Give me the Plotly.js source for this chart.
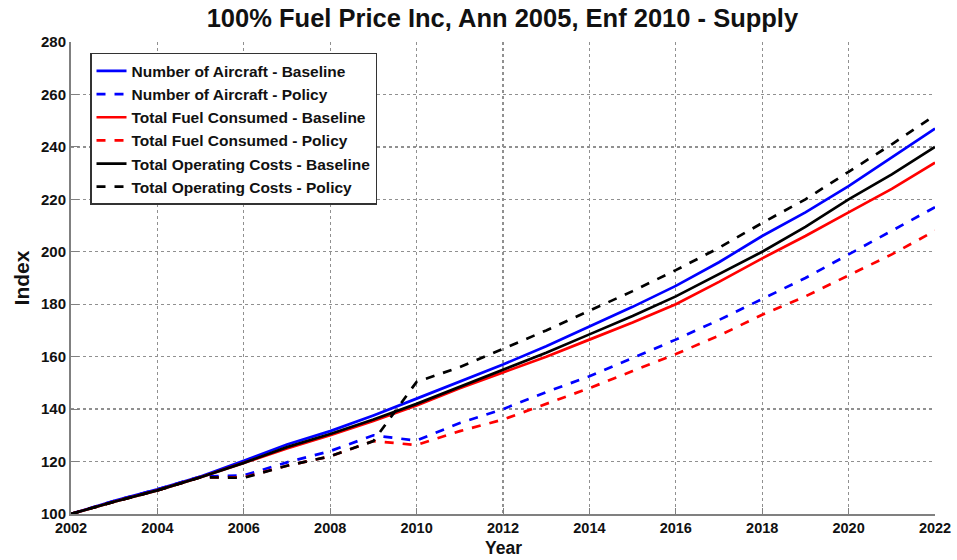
<!DOCTYPE html>
<html>
<head>
<meta charset="utf-8">
<script src="https://cdn.plot.ly/plotly-3.0.1.min.js"></script>
<style>html,body{margin:0;padding:0;background:#fff;}#chart{width:957px;height:560px;}</style>
</head>
<body>
<div id="chart"></div>
<script>
const years = [2002,2003,2004,2005,2006,2007,2008,2009,2010,2011,2012,2013,2014,2015,2016,2017,2018,2019,2020,2021,2022];
const aircraftBaseline = [100,105,109.4,114.3,120.3,126.5,131.6,137.6,144,150.4,157,164,171.5,179,187,196,206,215,225,236,247];
const aircraftPolicy   = [100,105,109.4,114.3,114.7,119.7,124,130,128,134.7,140,146.5,152.5,159.5,166.5,174,182,190,199,208,217];
const fuelBaseline     = [100,104.7,109,114,119.5,125,130,135.5,141.4,148,154,160,166.5,173,180,188.5,197.5,206,215,224,234];
const fuelPolicy       = [100,104.7,109,114,114,118.4,122,127.8,126.3,131.6,136,142,148,154.5,161,168,176,183,191,199,208];
const costBaseline     = [100,104.7,109,114,119.5,125.5,130.5,136,142,148.5,155,161.5,168.5,175.5,183,191.5,200,209.5,220,229.5,240];
const costPolicy       = [100,104.7,109,114,113.8,118.4,122,127.8,150.4,156,163,170,177.5,185,193,201.5,211,220,230.5,241,252];
const seriesNames = [
  'Number of Aircraft - Baseline','Number of Aircraft - Policy',
  'Total Fuel Consumed - Baseline','Total Fuel Consumed - Policy',
  'Total Operating Costs - Baseline','Total Operating Costs - Policy'
];
const xTicks = [2002,2004,2006,2008,2010,2012,2014,2016,2018,2020,2022];
const yTicks = [100,120,140,160,180,200,220,240,260,280];

const seriesData = [aircraftBaseline, aircraftPolicy, fuelBaseline, fuelPolicy, costBaseline, costPolicy];
const colors = ['#0000ff','#0000ff','#ff0000','#ff0000','#000000','#000000'];
const dashes = ['solid','dash','solid','dash','solid','dash'];

const traces = seriesData.map((ys, i) => ({
  x: years, y: ys, name: seriesNames[i], type: 'scatter', mode: 'lines',
  line: {color: colors[i], width: 2.7, dash: dashes[i]}
}));

const font = {family: 'Liberation Sans, Arial, sans-serif', color: '#111', weight: 'bold'};

const layout = {
  width: 957, height: 560,
  margin: {l: 71, r: 22, t: 42, b: 46},
  paper_bgcolor: '#fff', plot_bgcolor: '#fff',
  title: {text: '100% Fuel Price Inc, Ann 2005, Enf 2010 - Supply', font: Object.assign({}, font, {size: 25.5}), x: 0.525, xanchor: 'center', y: 0.968, yanchor: 'middle'},
  xaxis: {
    range: [2002, 2022], tickvals: xTicks, ticktext: xTicks.map(String),
    showgrid: true, gridcolor: '#909090', griddash: 'dot', gridwidth: 1.3,
    showline: true, linecolor: '#808080', linewidth: 2,
    ticks: 'inside', ticklen: 6, tickcolor: '#808080',
    tickfont: Object.assign({}, font, {size: 14.5}),
    ticklabelstandoff: 0,
    automargin: false, zeroline: false
  },
  yaxis: {
    range: [100, 280], tickvals: yTicks, ticktext: yTicks.map(String),
    showgrid: true, gridcolor: '#909090', griddash: 'dot', gridwidth: 1.3,
    showline: true, linecolor: '#808080', linewidth: 2,
    ticks: 'inside', ticklen: 8, tickcolor: '#808080',
    tickfont: Object.assign({}, font, {size: 15}),
    title: {text: 'Index', font: Object.assign({}, font, {size: 21}), standoff: 6},
    automargin: false, zeroline: false
  },
  annotations: [{
    text: 'Year', xref: 'paper', yref: 'paper', x: 0.5, y: -0.0955, xanchor: 'center', yanchor: 'bottom',
    showarrow: false, font: Object.assign({}, font, {size: 17.5}), borderpad: 0
  }],
  showlegend: true,
  legend: {
    x: 0.022, y: 0.977, xanchor: 'left', yanchor: 'top',
    bgcolor: '#fff', bordercolor: '#333', borderwidth: 1.5,
    font: Object.assign({}, font, {size: 15.5}),
    tracegroupgap: 0, itemwidth: 30
  }
};

Plotly.newPlot('chart', traces, layout, {displayModeBar: false, staticPlot: true});
</script>
</body>
</html>
